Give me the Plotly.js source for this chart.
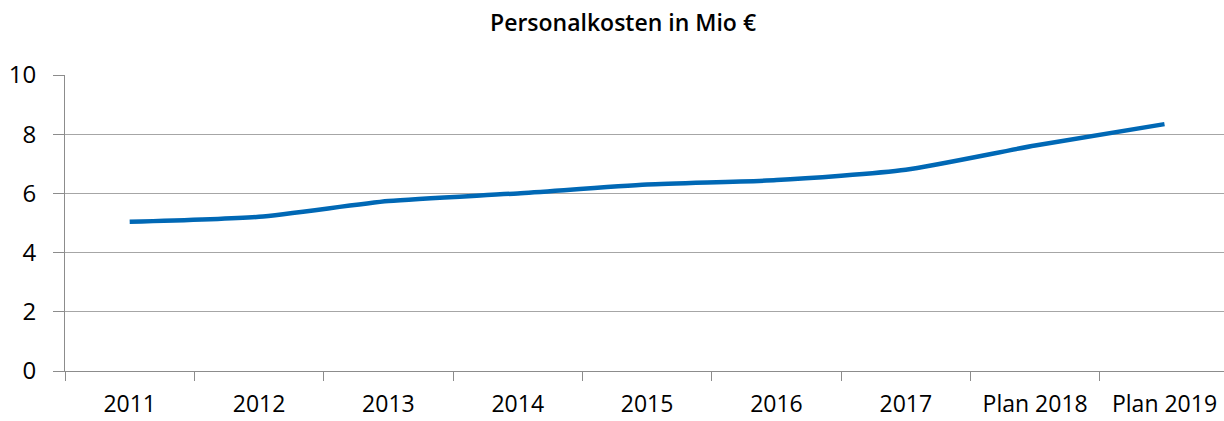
<!DOCTYPE html>
<html>
<head>
<meta charset="utf-8">
<script src="https://cdn.plot.ly/plotly-3.0.1.min.js"></script>
<style>html,body{margin:0;padding:0;background:#fff;}#chart{width:1224px;height:421px;}</style>
</head>
<body>
<div id="chart"></div>
<script>
const categories = ["2011","2012","2013","2014","2015","2016","2017","Plan 2018","Plan 2019"];
const personalkosten = [5.04, 5.21, 5.74, 6.00, 6.30, 6.45, 6.80, 7.62, 8.34];
const yTicks = [0, 2, 4, 6, 8, 10];
const chartTitle = "Personalkosten in Mio €";

const font = "Open Sans, Liberation Sans, sans-serif";
const trace = {
  x: categories,
  y: personalkosten,
  type: "scatter",
  mode: "lines",
  line: {color: "#0068B5", width: 4.5, shape: "spline", smoothing: 0.6},
  hoverinfo: "x+y"
};
const layout = {
  width: 1224, height: 421,
  margin: {l: 65, r: 0, t: 75, b: 50},
  paper_bgcolor: "#fff", plot_bgcolor: "#fff",
  showlegend: false,
  title: {text: chartTitle, x: 0.509, xanchor: "center", y: 0.945, yanchor: "middle",
          font: {family: font, size: 23, color: "#000", weight: 600}},
  xaxis: {
    type: "category",
    range: [-0.5, 8.46],
    tickson: "boundaries",
    ticks: "outside", ticklen: 9, tickcolor: "#8c8c8c", tickwidth: 1,
    showgrid: false, showline: true, linecolor: "#8c8c8c", linewidth: 1,
    tickfont: {family: font, size: 23, color: "#000"},
    ticklabelstandoff: 12,
    fixedrange: true
  },
  yaxis: {
    range: [0, 10],
    tickvals: yTicks,
    ticks: "outside", ticklen: 11, tickcolor: "#8c8c8c",
    showgrid: true, gridcolor: "#a6a6a6", gridwidth: 1,
    showline: true, linecolor: "#8c8c8c", linewidth: 1,
    zeroline: false,
    tickfont: {family: font, size: 24, color: "#000"},
    ticklabelstandoff: 12,
    fixedrange: true
  }
};
Plotly.newPlot("chart", [trace], layout, {displayModeBar: false, staticPlot: true});
</script>
</body>
</html>
